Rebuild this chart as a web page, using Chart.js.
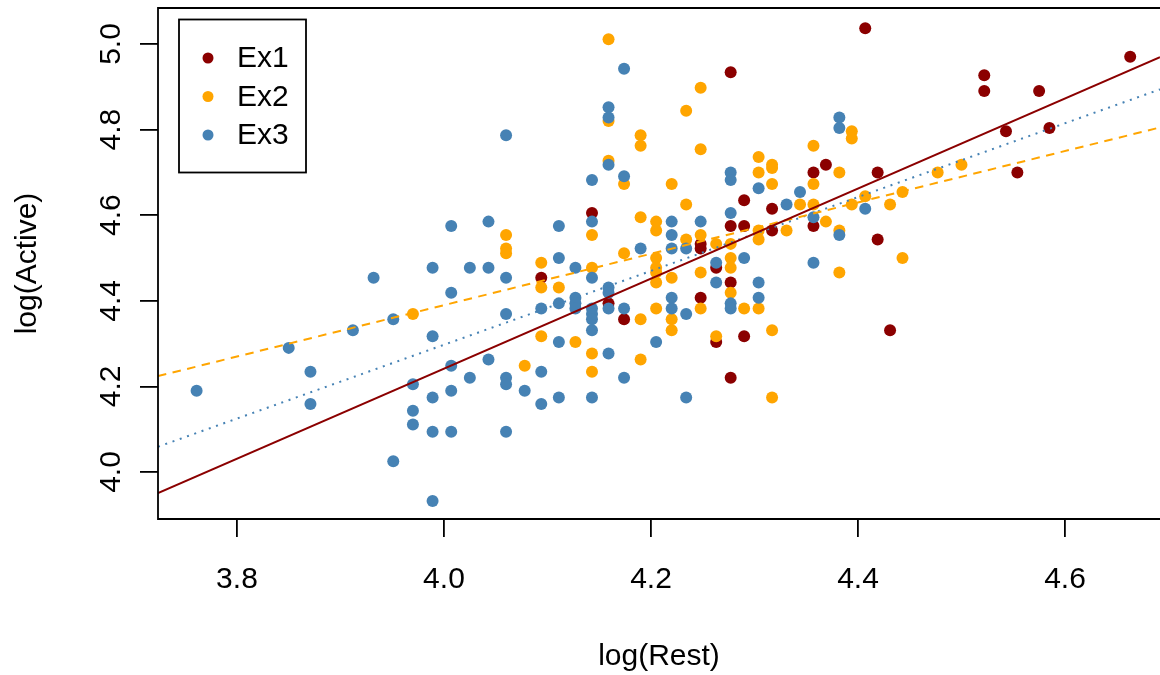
<!DOCTYPE html>
<html>
<head>
<meta charset="utf-8">
<script src="https://cdn.jsdelivr.net/npm/chart.js@4.4.1/dist/chart.umd.min.js"></script>
<style>
html,body{margin:0;padding:0;background:#fff;}
</style>
</head>
<body>
<canvas id="myChart" width="1160" height="675"></canvas>
<script>
// data (log scale values)
var ex1Rest   = [4.094,4.143,4.159,4.174,4.248,4.248,4.248,4.263,4.263,4.277,4.277,4.277,4.277,4.290,4.290,4.290,4.317,4.317,4.357,4.357,4.369,4.407,4.419,4.419,4.431,4.522,4.522,4.543,4.554,4.575,4.585,4.663];
var ex1Active = [4.454,4.605,4.394,4.357,4.533,4.522,4.407,4.477,4.304,4.934,4.575,4.443,4.220,4.635,4.575,4.317,4.615,4.564,4.700,4.575,4.718,5.037,4.700,4.543,4.331,4.927,4.890,4.796,4.700,4.890,4.804,4.970];

var ex2Rest   = [3.970,4.060,4.060,4.060,4.078,4.094,4.094,4.094,4.111,4.127,
                 4.143,4.143,4.143,4.143,4.159,4.159,4.159,4.174,4.174,
                 4.190,4.190,4.190,4.190,4.190,4.205,4.205,4.205,4.205,4.205,4.205,4.205,
                 4.220,4.220,4.220,4.220,4.234,4.234,4.234,4.248,4.248,4.248,4.248,4.248,
                 4.263,4.263,4.277,4.277,4.277,4.277,4.290,4.304,4.304,4.304,4.304,4.304,
                 4.317,4.317,4.317,4.317,4.317,4.331,4.344,4.357,4.357,4.357,4.369,
                 4.382,4.382,4.382,4.394,4.394,4.394,4.407,4.431,4.443,4.443,4.477,4.500];
var ex2Active = [4.369,4.554,4.522,4.511,4.248,4.489,4.431,4.317,4.431,4.304,
                 4.554,4.477,4.277,4.234,5.011,4.820,4.727,4.673,4.511,
                 4.787,4.762,4.595,4.357,4.263,4.585,4.564,4.500,4.477,4.466,4.443,4.382,
                 4.673,4.454,4.357,4.331,4.844,4.625,4.543,4.898,4.754,4.554,4.466,4.382,
                 4.533,4.317,4.533,4.500,4.477,4.419,4.382,4.736,4.700,4.564,4.543,4.382,
                 4.718,4.710,4.673,4.331,4.174,4.564,4.625,4.762,4.673,4.625,4.585,
                 4.700,4.564,4.466,4.796,4.779,4.625,4.644,4.625,4.654,4.500,4.700,4.718];

var ex3Rest   = [3.761,3.850,3.871,3.871,3.912,3.932,3.951,3.951,3.970,3.970,3.970,
                 3.989,3.989,3.989,3.989,3.989,4.007,4.007,4.007,4.007,4.007,4.025,4.025,
                 4.043,4.043,4.043,4.060,4.060,4.060,4.060,4.060,4.060,4.078,4.094,4.094,4.094,
                 4.111,4.111,4.111,4.111,4.111,4.127,4.127,4.127,4.127,
                 4.143,4.143,4.143,4.143,4.143,4.143,4.143,4.143,
                 4.159,4.159,4.159,4.159,4.159,4.159,4.159,4.174,4.174,4.174,4.174,
                 4.190,4.205,4.220,4.220,4.220,4.220,4.220,4.234,4.234,4.234,4.248,4.263,4.263,
                 4.277,4.277,4.277,4.277,4.277,4.290,4.304,4.304,4.304,4.331,4.344,4.357,4.357,
                 4.382,4.382,4.382,4.407];
var ex3Active = [4.190,4.290,4.234,4.159,4.331,4.454,4.357,4.025,4.205,4.143,4.111,
                 4.477,4.317,4.174,4.094,3.932,4.575,4.419,4.248,4.190,4.094,4.477,4.220,
                 4.585,4.477,4.263,4.787,4.454,4.369,4.220,4.205,4.094,4.190,4.382,4.234,4.159,
                 4.575,4.500,4.394,4.304,4.174,4.477,4.407,4.394,4.382,
                 4.682,4.585,4.454,4.382,4.369,4.357,4.331,4.174,
                 4.852,4.828,4.718,4.431,4.419,4.382,4.277,4.942,4.691,4.382,4.220,
                 4.522,4.304,4.585,4.554,4.522,4.407,4.382,4.522,4.369,4.174,4.585,4.489,4.443,
                 4.700,4.682,4.605,4.394,4.382,4.500,4.663,4.443,4.407,4.625,4.654,4.595,4.489,
                 4.828,4.804,4.554,4.615];

// fitted lines, read at the left and right plot edges
var fitRest = [3.7237, 4.6918];
var fitEx1  = [3.951, 4.969];
var fitEx2  = [4.224, 4.805];
var fitEx3  = [4.059, 4.894];

var xTicks = [3.8, 4.0, 4.2, 4.4, 4.6];
var yTicks = [4.0, 4.2, 4.4, 4.6, 4.8, 5.0];
var seriesNames = ['Ex1', 'Ex2', 'Ex3'];
var seriesColors = ['#8B0000', '#FFA500', '#4682B4'];

var FONT = "'Liberation Sans', Arial, Helvetica, sans-serif";

function pairs(xs, ys){
    var out = [];
    for(var i=0;i<xs.length;i++){
        out.push({x:xs[i], y:ys[i]});
    }
    return out;
}

// box around the plot region (right side is cut off in the original) plus the R style legend
var boxPlugin = {
    id: 'rbox',
    afterDatasetsDraw: function(chart){
        var ctx = chart.ctx, a = chart.chartArea;
        ctx.save();
        ctx.strokeStyle = '#000';
        ctx.lineWidth = 1.8;
        ctx.beginPath();
        ctx.moveTo(a.right + 2, a.top);
        ctx.lineTo(a.left, a.top);
        ctx.lineTo(a.left, a.bottom);
        ctx.lineTo(a.right + 2, a.bottom);
        ctx.stroke();

        // legend
        var lx = a.left + 21, ly = a.top + 11.5, lw = 127, lh = 153;
        ctx.fillStyle = '#fff';
        ctx.fillRect(lx, ly, lw, lh);
        ctx.strokeRect(lx, ly, lw, lh);
        ctx.font = '30px ' + FONT;
        ctx.textBaseline = 'middle';
        ctx.textAlign = 'left';
        for(var i=0;i<seriesNames.length;i++){
            var cy = ly + 38.5 + i*38.5;
            ctx.beginPath();
            ctx.arc(lx + 29, cy, 5.5, 0, Math.PI*2);
            ctx.fillStyle = seriesColors[i];
            ctx.fill();
            ctx.fillStyle = '#000';
            ctx.fillText(seriesNames[i], lx + 58, cy + 1);
        }
        ctx.restore();
    }
};

var pointSets = [[ex1Rest, ex1Active], [ex2Rest, ex2Active], [ex3Rest, ex3Active]];
var fits = [fitEx1, fitEx2, fitEx3];
var dashes = [[], [8.5, 6.5], [2, 5.7]];
var datasets = [];
for(var s=0;s<3;s++){
    datasets.push({
        label: seriesNames[s],
        data: pairs(pointSets[s][0], pointSets[s][1]),
        backgroundColor: seriesColors[s],
        borderColor: seriesColors[s],
        pointRadius: 6,
        pointHoverRadius: 6,
        borderWidth: 0,
        pointBorderWidth: 0,
        order: 3 - s
    });
}
for(var s=0;s<3;s++){
    datasets.push({
        label: seriesNames[s] + ' fit',
        data: pairs(fitRest, fits[s]),
        showLine: true,
        pointRadius: 0,
        borderColor: seriesColors[s],
        borderWidth: 2,
        borderDash: dashes[s],
        borderCapStyle: 'butt',
        fill: false,
        order: 0
    });
}

var tickFont = {family: FONT, size: 30};

var config = {
    type: 'scatter',
    data: {datasets: datasets},
    options: {
        responsive: false,
        animation: false,
        devicePixelRatio: 1,
        layout: {autoPadding: false, padding: {top: 8, right: 0, bottom: 0, left: 0}},
        plugins: {legend: {display: false}, tooltip: {enabled: false}},
        scales: {
            x: {
                type: 'linear',
                min: 3.7237,
                max: 4.6918,
                afterBuildTicks: function(sc){ sc.ticks = xTicks.map(function(v){ return {value: v}; }); },
                afterFit: function(sc){ sc.height = 156; sc.paddingLeft = 0; sc.paddingRight = 0; },
                border: {display: false},
                grid: {drawOnChartArea: false, drawTicks: true, tickLength: 18, color: '#000', lineWidth: 1.8},
                ticks: {font: tickFont, color: '#000', padding: 25, maxRotation: 0, autoSkip: false,
                        callback: function(v){ return v.toFixed(1); }},
                title: {display: true, text: 'log(Rest)', font: tickFont, color: '#000', padding: {top: 0, bottom: 0}}
            },
            y: {
                type: 'linear',
                min: 3.8902,
                max: 5.0841,
                afterBuildTicks: function(sc){ sc.ticks = yTicks.map(function(v){ return {value: v}; }); },
                afterFit: function(sc){ sc.width = 158; sc.paddingTop = 0; sc.paddingBottom = 0; },
                border: {display: false},
                grid: {drawOnChartArea: false, drawTicks: true, tickLength: 18, color: '#000', lineWidth: 1.8},
                ticks: {font: tickFont, color: '#000', padding: 7, minRotation: 90, maxRotation: 90,
                        crossAlign: 'center', autoSkip: false,
                        callback: function(v){ return v.toFixed(1); }},
                title: {display: true, text: 'log(Active)', font: tickFont, color: '#000', padding: {top: 10, bottom: 0}}
            }
        }
    },
    plugins: [boxPlugin]
};

var myChart = new Chart(document.getElementById('myChart'), config);
</script>
</body>
</html>
